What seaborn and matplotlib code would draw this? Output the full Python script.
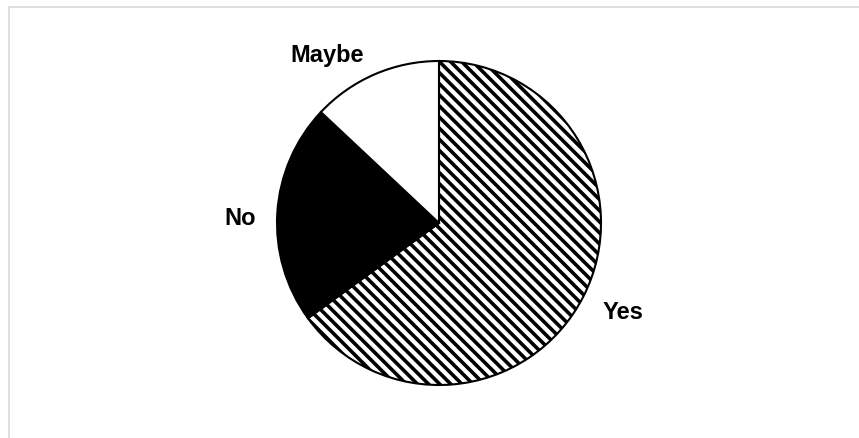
import matplotlib
matplotlib.use("Agg")
import matplotlib.pyplot as plt
import seaborn as sns
from matplotlib.patches import Rectangle

categories = ["Yes", "No", "Maybe"]
values = [65, 22, 13]

sns.set_theme(style="white")
plt.rcParams['font.family'] = ['Liberation Sans', 'DejaVu Sans']
plt.rcParams['hatch.linewidth'] = 2.6
plt.rcParams['hatch.color'] = 'black'

fig = plt.figure(figsize=(8.59, 4.39), dpi=100)
W, H = 859, 439
cx, cy, r = 439, 439 - 224, 162
ax = fig.add_axes([(cx - r) / W, (cy - r) / H, 2 * r / W, 2 * r / H])

wedges, texts = ax.pie(values, labels=categories, startangle=90, counterclock=False,
                       colors=["white", "black", "white"], labeldistance=1.13,
                       wedgeprops=dict(edgecolor="black", linewidth=1.5),
                       textprops=dict(fontsize=17, fontweight="bold", color="black"))
wedges[0].set_hatch("\\\\\\")
for t, dx, dy in zip(texts, [0, 0, -0.015], [-0.035, -0.035, 0.0]):
    x, y = t.get_position()
    t.set_position((x + dx, y + dy))
ax.set_xlim(-1, 1)
ax.set_ylim(-1, 1)
ax.set_aspect("equal")
ax.axis("off")

fig.patches.append(Rectangle((9 / W, -0.1), 1.2, (H - 8) / H + 0.1, transform=fig.transFigure,
                             fill=False, edgecolor="#d9d9d9", linewidth=1.2))
fig.savefig("out.png", dpi=100, facecolor="white")
